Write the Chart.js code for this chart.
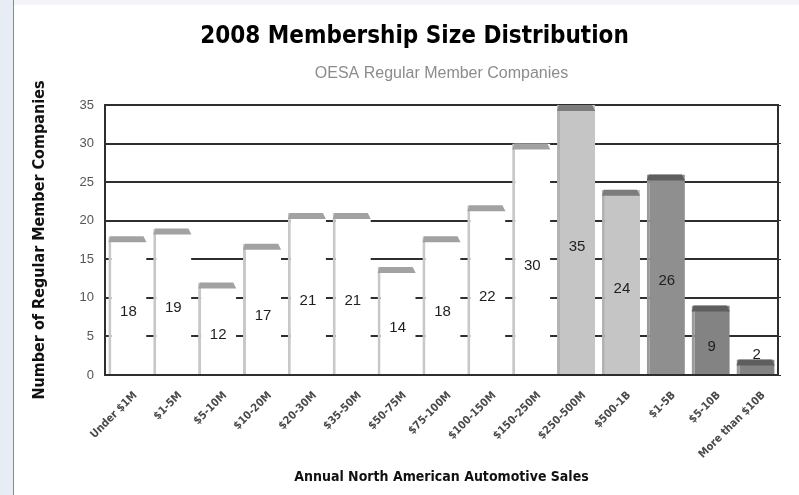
<!DOCTYPE html>
<html lang="en">
<head>
  <meta charset="UTF-8" />
  <title>2008 Membership Size Distribution</title>
  <script src="https://cdn.jsdelivr.net/npm/chart.js"></script>
  <style>
    html, body { margin: 0; padding: 0; background: #fff; }
    #topStrip { position: absolute; left: 0; top: 0; width: 799px; height: 5px; background: #f3f5f9; }
    #leftStrip { position: absolute; left: 0; top: 0; width: 13px; height: 495px; background: #e8ecf4; border-right: 1px solid #8a8a8a; }
    #wrap { position: absolute; left: 0; top: 0; width: 799px; height: 495px; }
  </style>
</head>
<body>
  <div id="topStrip"></div>
  <div id="leftStrip"></div>
  <div id="wrap"><canvas id="sizeChart"></canvas></div>

  <script>
    const salesBands = [
      "Under $1M", "$1-5M", "$5-10M", "$10-20M", "$20-30M", "$35-50M", "$50-75M",
      "$75-100M", "$100-150M", "$150-250M", "$250-500M", "$500-1B", "$1-5B",
      "$5-10B", "More than $10B"
    ];
    const companies = [18, 19, 12, 17, 21, 21, 14, 18, 22, 30, 35, 24, 26, 9, 2];
    const yTicks = [0, 5, 10, 15, 20, 25, 30, 35];

    // shading per bar: white for the small bands, then light, mid and dark grey
    const barFills = [
      "#ffffff", "#ffffff", "#ffffff", "#ffffff", "#ffffff", "#ffffff", "#ffffff",
      "#ffffff", "#ffffff", "#ffffff", "#c5c5c5", "#c5c5c5", "#8f8f8f", "#838383", "#838383"
    ];
    const barEdges = barFills.map(c => c === "#ffffff" ? "#c8c8c8" : (c === "#c5c5c5" ? "#b2b2b2" : "#9a9a9a"));
    const capFills = barFills.map(c => c === "#ffffff" ? "#a2a2a2" : (c === "#c5c5c5" ? "#7c7c7c" : "#5e5e5e"));

    const narrowBold = '"DejaVu Sans Condensed", "Arial Narrow", sans-serif';

    // slanted top on each bar for the 3D look
    const barCaps = {
      id: "barCaps",
      afterDatasetsDraw(chart) {
        const ctx = chart.ctx;
        const meta = chart.getDatasetMeta(0);
        ctx.save();
        meta.data.forEach((bar, i) => {
          const L = bar.x - bar.width / 2;
          const R = bar.x + bar.width / 2;
          const y = bar.y;
          ctx.fillStyle = capFills[i];
          ctx.beginPath();
          ctx.moveTo(L, y + 6);
          ctx.lineTo(L + 2, y);
          ctx.lineTo(R - 3, y);
          ctx.lineTo(R, y + 6);
          ctx.closePath();
          ctx.fill();
        });
        ctx.restore();
      }
    };

    // value printed inside each bar (above it when the bar is short)
    const barValues = {
      id: "barValues",
      afterDatasetsDraw(chart) {
        const ctx = chart.ctx;
        const meta = chart.getDatasetMeta(0);
        ctx.save();
        ctx.font = "15px Arial, 'Liberation Sans', sans-serif";
        ctx.fillStyle = "#1e1e1e";
        ctx.textAlign = "center";
        ctx.textBaseline = "middle";
        meta.data.forEach((bar, i) => {
          const h = bar.base - bar.y;
          const ty = h < 30 ? bar.y - 5 : (bar.y + bar.base) / 2 + 7;
          ctx.fillText(String(companies[i]), bar.x + 1, ty);
        });
        ctx.restore();
      }
    };

    new Chart(document.getElementById("sizeChart"), {
      type: "bar",
      data: {
        labels: salesBands,
        datasets: [{
          label: "Regular member companies",
          data: companies,
          backgroundColor: barFills,
          borderColor: barEdges,
          borderWidth: { left: 3, right: 0, top: 0, bottom: 0 },
          borderSkipped: false,
          barPercentage: 0.85,
          categoryPercentage: 1.0
        }]
      },
      options: {
        responsive: true,
        maintainAspectRatio: false,
        animation: false,
        layout: { padding: { left: 30, right: 0, top: 0, bottom: 0 } },
        plugins: {
          legend: { display: false },
          tooltip: { enabled: false },
          title: {
            display: true,
            text: "2008 Membership Size Distribution",
            color: "#000",
            font: { family: narrowBold, size: 24, weight: "bold" },
            padding: { top: 22, bottom: 0 }
          },
          subtitle: {
            display: true,
            fullSize: false,
            text: "OESA Regular Member Companies",
            color: "#8c8c8c",
            font: { family: "Arial, 'Liberation Sans', sans-serif", size: 16 },
            padding: { top: 13, bottom: 22 }
          }
        },
        scales: {
          x: {
            grid: { display: false, drawTicks: false },
            border: { display: false },
            ticks: {
              color: "#4a4a4a",
              font: { family: narrowBold, size: 11, weight: "bold" },
              maxRotation: 45,
              minRotation: 45,
              autoSkip: false,
              labelOffset: 8,
              padding: 14
            },
            title: {
              display: true,
              text: "Annual North American Automotive Sales",
              color: "#111",
              font: { family: narrowBold, size: 14, weight: "bold" },
              padding: { top: 0, bottom: 9 }
            },
            afterFit(scale) { scale.height = 120; }
          },
          y: {
            min: 0,
            max: 35,
            afterBuildTicks(scale) { scale.ticks = yTicks.map(v => ({ value: v })); },
            grid: { color: "#2e2e2e", lineWidth: 2, drawTicks: false },
            border: { display: true, color: "#2e2e2e", width: 2 },
            ticks: {
              color: "#555",
              font: { family: "Arial, 'Liberation Sans', sans-serif", size: 13 },
              padding: 11
            },
            title: {
              display: true,
              text: "Number of Regular Member Companies",
              color: "#111",
              font: { family: narrowBold, size: 16, weight: "bold" },
              padding: { top: 0, bottom: 0 }
            },
            afterFit(scale) { scale.width = 75; }
          },
          yRight: {
            position: "right",
            min: 0,
            max: 35,
            afterBuildTicks(scale) { scale.ticks = yTicks.map(v => ({ value: v })); },
            grid: { drawOnChartArea: false, drawTicks: true, tickLength: 3, color: "#2e2e2e" },
            border: { display: true, color: "#2e2e2e", width: 2 },
            ticks: { display: false },
            afterFit(scale) { scale.width = 21; }
          }
        }
      },
      plugins: [barCaps, barValues]
    });
  </script>
</body>
</html>
